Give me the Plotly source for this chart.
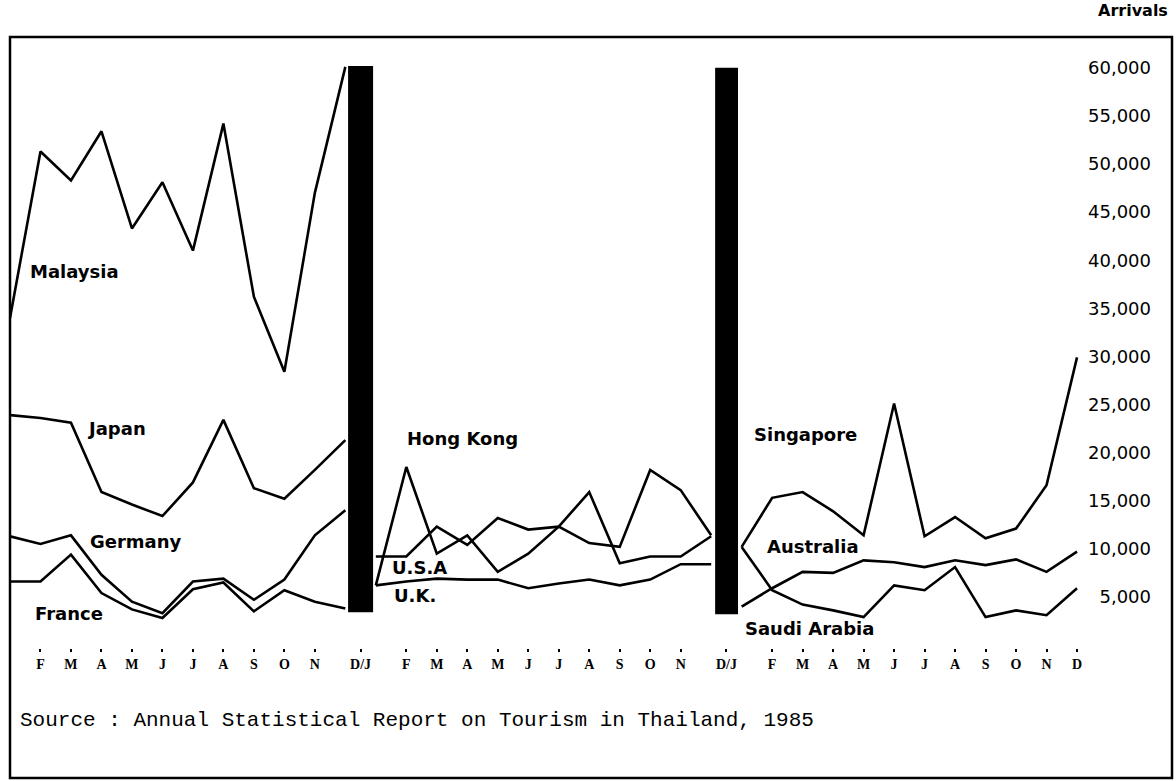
import plotly.graph_objects as go

# ---- data (monthly arrivals) ----
months_short = ["J", "F", "M", "A", "M", "J", "J", "A", "S", "O", "N", "D"]

malaysia  = [34000, 51300, 48300, 53400, 43300, 48100, 41000, 54200, 36200, 28400, 47000, 60100]
japan     = [23900, 23600, 23100, 15900, 14600, 13400, 16900, 23400, 16300, 15200, 18200, 21300]
germany   = [11300, 10500, 11400, 7300, 4500, 3300, 6600, 6900, 4700, 6800, 11400, 14000]
france    = [6600, 6600, 9400, 5400, 3700, 2800, 5800, 6500, 3500, 5700, 4500, 3800]

hongkong  = [6200, 18500, 9500, 11400, 7600, 9500, 12300, 15900, 8500, 9200, 9200, 11300]
usa       = [9200, 9200, 12300, 10400, 13200, 12000, 12300, 10600, 10200, 18200, 16100, 11400]
uk        = [6200, 6600, 6900, 6800, 6800, 5900, 6400, 6800, 6200, 6800, 8400, 8400]

singapore = [10200, 15300, 15900, 13900, 11400, 25100, 11300, 13300, 11100, 12100, 16600, 29900]
australia = [4000, 5900, 7600, 7500, 8800, 8600, 8100, 8800, 8300, 8900, 7600, 9700]
saudi     = [10200, 5700, 4200, 3600, 2900, 6200, 5700, 8100, 2900, 3600, 3100, 5900]

y_tick_values = [5000, 10000, 15000, 20000, 25000, 30000, 35000, 40000, 45000, 50000, 55000, 60000]
y_tick_labels = ["5,000", "10,000", "15,000", "20,000", "25,000", "30,000",
                 "35,000", "40,000", "45,000", "50,000", "55,000", "60,000"]

x_tick_values = [1, 2, 3, 4, 5, 6, 7, 8, 9, 10, 11.5,
                 13, 14, 15, 16, 17, 18, 19, 20, 21, 22, 23.5,
                 25, 26, 27, 28, 29, 30, 31, 32, 33, 34, 35]
x_tick_labels = ["F", "M", "A", "M", "J", "J", "A", "S", "O", "N", "D/J",
                 "F", "M", "A", "M", "J", "J", "A", "S", "O", "N", "D/J",
                 "F", "M", "A", "M", "J", "J", "A", "S", "O", "N", "D"]

panels = [
    (0, [("Malaysia", malaysia), ("Japan", japan), ("Germany", germany), ("France", france)]),
    (12, [("Hong Kong", hongkong), ("U.S.A", usa), ("U.K.", uk)]),
    (24, [("Singapore", singapore), ("Australia", australia), ("Saudi Arabia", saudi)]),
]

separators = [(11.09, 11.91, 3400, 60200), (23.13, 23.88, 3200, 60000)]

# label anchors (x in month units, y in arrivals)
labels = [
    ("Malaysia", 0.59, 38800),
    ("Japan", 2.46, 22500),
    ("Germany", 2.56, 10800),
    ("France", 0.75, 3300),
    ("Hong Kong", 12.96, 21500),
    ("U.S.A", 12.46, 8050),
    ("U.K.", 12.53, 5150),
    ("Singapore", 24.34, 21900),
    ("Australia", 24.76, 10200),
    ("Saudi Arabia", 24.05, 1750),
]

fig = go.Figure()
for start, series in panels:
    xs = list(range(start, start + 12))
    for name, vals in series:
        fig.add_trace(go.Scatter(
            x=xs, y=vals, mode="lines", name=name,
            line=dict(color="black", width=2.6),
            hoverinfo="skip", showlegend=False,
        ))

for x0, x1, y0, y1 in separators:
    fig.add_shape(type="rect", xref="x", yref="y", x0=x0, x1=x1, y0=y0, y1=y1,
                  fillcolor="black", line=dict(width=0), layer="above")

label_font = dict(family="DejaVu Sans", size=18, color="black", weight="bold")
for text, lx, ly in labels:
    fig.add_annotation(x=lx, y=ly, xref="x", yref="y", text=text, showarrow=False,
                       xanchor="left", yanchor="middle", font=label_font)

fig.add_annotation(x=0.9983, y=1.044, xref="paper", yref="paper", text="Arrivals",
                   showarrow=False, xanchor="right", yanchor="middle",
                   font=dict(family="DejaVu Sans", size=16, color="black", weight="bold"))

fig.add_annotation(x=0.007, y=-0.118, xref="paper", yref="paper",
                   text="Source : Annual Statistical Report on Tourism in Thailand, 1985",
                   showarrow=False, xanchor="left", yanchor="middle",
                   font=dict(family="Liberation Mono", size=21, color="black"))

# outer frame
fig.add_shape(type="rect", xref="paper", yref="paper", x0=0, x1=1, y0=-0.2128, y1=1,
              line=dict(color="black", width=2.5), fillcolor="rgba(0,0,0,0)", layer="above")

fig.update_layout(
    width=1176, height=781,
    margin=dict(l=10, r=4, t=37, b=133),
    paper_bgcolor="white", plot_bgcolor="white",
    showlegend=False,
    xaxis=dict(range=[0, 38.116], tickvals=x_tick_values, ticktext=x_tick_labels,
               showgrid=False, zeroline=False, showline=False,
               ticks="outside", ticklen=3, tickwidth=1.5, tickcolor="black",
               tickfont=dict(family="Liberation Serif", size=14, color="black", weight="bold"),
               fixedrange=True),
    yaxis=dict(range=[-312, 63202], tickvals=y_tick_values, ticktext=y_tick_labels,
               side="right", ticklabelposition="inside", ticklabelstandoff=18,
               showgrid=False, zeroline=False, showline=False, ticks="",
               tickfont=dict(family="DejaVu Sans", size=18, color="black"),
               fixedrange=True),
)

fig.write_html("out.html", config={"displayModeBar": False},
               post_script="document.body.style.margin='0';document.body.style.overflow='hidden';")
